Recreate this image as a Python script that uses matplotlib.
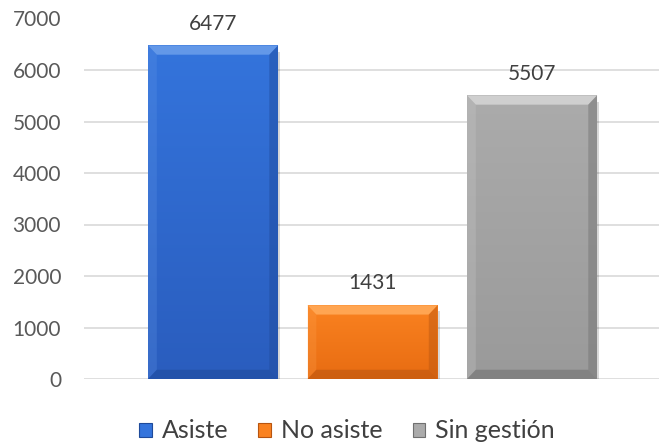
import matplotlib
matplotlib.use("Agg")
import matplotlib.pyplot as plt
import numpy as np
from matplotlib.patches import Polygon, Patch
from matplotlib.colors import to_rgb

categories = ["Asiste", "No asiste", "Sin gestión"]
values = [6477, 1431, 5507]
face_top = ["#3474DC", "#FA8220", "#ABABAB"]
face_bot = ["#2A5DBE", "#E86C12", "#9A9A9A"]
bevel_light = ["#6398E8", "#FFA552", "#CFCFCF"]
bevel_dark = ["#1F4A9A", "#B85510", "#707070"]
yticks = [0, 1000, 2000, 3000, 4000, 5000, 6000, 7000]

plt.rcParams['font.family'] = ['Lato', 'DejaVu Sans']

W, H = 659, 445
fig = plt.figure(figsize=(W / 100, H / 100), dpi=100)
ax = fig.add_axes([84 / W, 1 - 379 / H, 1 - 84 / W, (379 - 18.5) / H])

x = np.arange(len(categories))
bw = 0.815
ax.set_xlim(-0.809, 2.796)
ax.set_ylim(0, 7000)

bars = ax.bar(x, values, width=bw, color=face_top, zorder=2, linewidth=0)

bx = 0.055
by = 180
for i, b in enumerate(bars):
    x0, x1 = b.get_x(), b.get_x() + b.get_width()
    y0, y1 = 0, b.get_height()
    # vertical gradient (top -> bottom)
    c1 = np.array(to_rgb(face_top[i]))
    c2 = np.array(to_rgb(face_bot[i]))
    t = np.linspace(0, 1, 64)[:, None]
    grad = (c1 * (1 - t) + c2 * t)[:, None, :]
    im = ax.imshow(grad, extent=[x0, x1, y0, y1], origin='upper', aspect='auto',
                   zorder=2.1, interpolation='bilinear')
    im.set_clip_path(b)
    # soft shadow
    sh = Polygon([(x1, y1 - 120), (x1 + 0.014, y1 - 120), (x1 + 0.014, y0 - 45),
                  (x0 + 0.02, y0 - 45), (x0 + 0.02, y0)], closed=True,
                 facecolor='#000000', alpha=0.15, linewidth=0, zorder=1.9)
    ax.add_patch(sh)
    by_i = min(by, (y1 - y0) * 0.3)
    top = Polygon([(x0, y1), (x1, y1), (x1 - bx, y1 - by_i), (x0 + bx, y1 - by_i)],
                  closed=True, facecolor=bevel_light[i], linewidth=0, zorder=2.2)
    left = Polygon([(x0, y0), (x0, y1), (x0 + bx, y1 - by_i), (x0 + bx, y0 + by_i)],
                   closed=True, facecolor=bevel_light[i], alpha=0.25, linewidth=0, zorder=2.2)
    right = Polygon([(x1, y0), (x1, y1), (x1 - bx, y1 - by_i), (x1 - bx, y0 + by_i)],
                    closed=True, facecolor=bevel_dark[i], alpha=0.45, linewidth=0, zorder=2.2)
    bottom = Polygon([(x0, y0), (x1, y0), (x1 - bx, y0 + by_i), (x0 + bx, y0 + by_i)],
                     closed=True, facecolor=bevel_dark[i], alpha=0.55, linewidth=0, zorder=2.2)
    for p in (top, left, right, bottom):
        ax.add_patch(p)
    ax.text(x[i], values[i] + 230, f"{values[i]}", ha='center', va='bottom',
            fontsize=15, color='#404040', zorder=3)

ax.set_yticks(yticks)
ax.set_yticklabels([str(v) for v in yticks])
ax.tick_params(axis='y', length=0, pad=16.5, labelsize=15, labelcolor='#595959')
ax.set_xticks([])
ax.grid(axis='y', color='#D9D9D9', linewidth=1.2, zorder=0)
ax.set_axisbelow(True)
for s in ax.spines.values():
    s.set_visible(False)

handles = [Patch(facecolor=face_top[i], edgecolor=bevel_dark[i], linewidth=0.8)
           for i in range(len(categories))]
fig.legend(handles, categories, loc='center', bbox_to_anchor=(347 / W, 1 - 431 / H),
           ncol=3, frameon=False, fontsize=18, handlelength=0.5, handleheight=0.5,
           handletextpad=0.4, columnspacing=1.2, labelcolor='#404040')

fig.savefig("out.png", dpi=100)
